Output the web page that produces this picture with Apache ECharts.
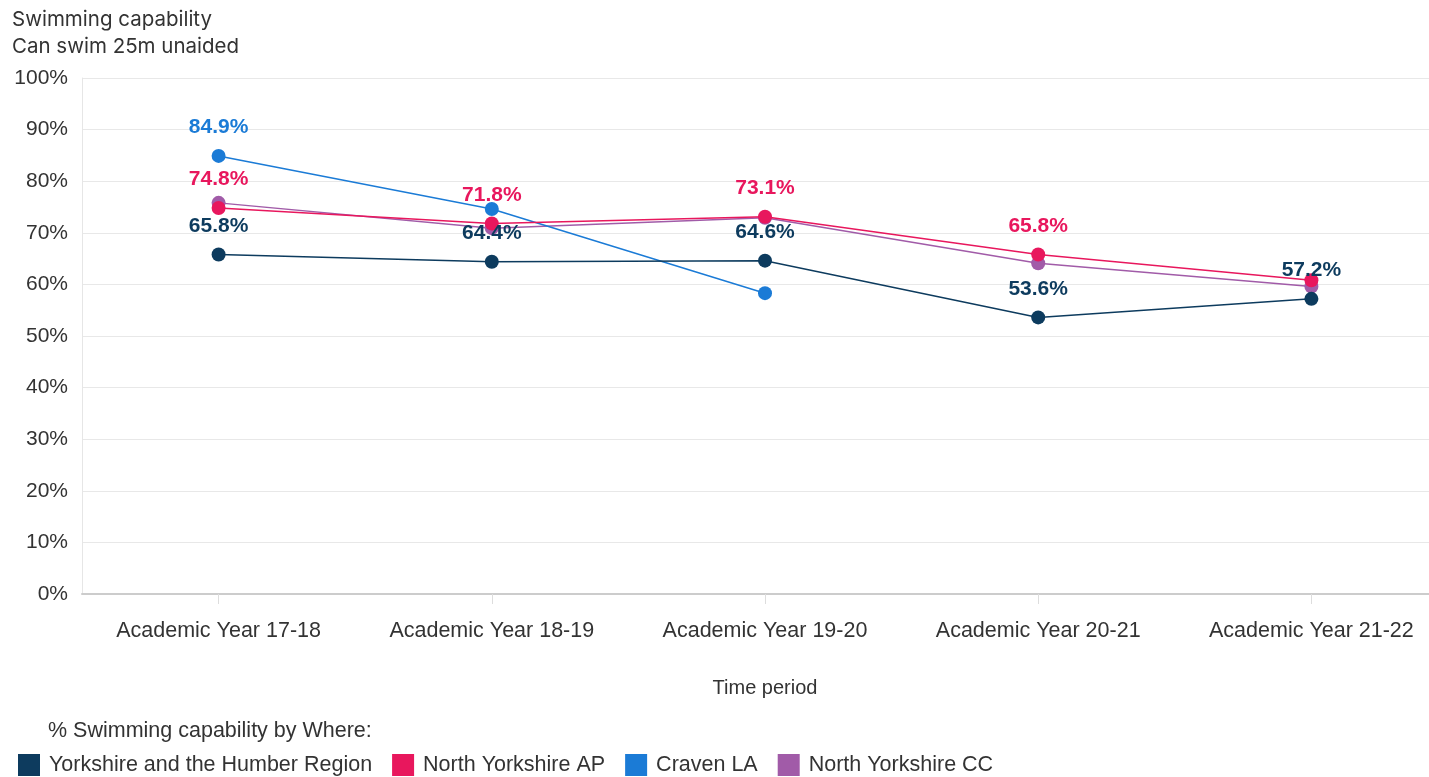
<!DOCTYPE html>
<html><head><meta charset="utf-8">
<script src="https://cdn.jsdelivr.net/npm/echarts@6/dist/echarts.min.js"></script>
<style>html,body{margin:0;padding:0;background:#fff}#c{width:1429px;height:777px}</style>
</head><body><div id="c"></div>
<script>
const categories = ['Academic Year 17-18','Academic Year 18-19','Academic Year 19-20','Academic Year 20-21','Academic Year 21-22'];
const yorkshireHumber = [65.8, 64.4, 64.6, 53.6, 57.2];
const northYorkshireAP = [74.8, 71.8, 73.1, 65.8, 60.8];
const cravenLA = [84.9, 74.6, 58.3, null, null];
const northYorkshireCC = [75.8, 70.9, 72.9, 64.1, 59.6];
const yTicks = [0,10,20,30,40,50,60,70,80,90,100];
const seriesNames = ['Yorkshire and the Humber Region','North Yorkshire AP','Craven LA','North Yorkshire CC'];
const colors = ['#0d3b5e','#e8175d','#1b7bd6','#a15ba8'];
const labelShow = [[1,1,1,1,1],[1,1,1,1,0],[1,0,0,0,0],[0,0,0,0,0]];
const FONT = 'Liberation Sans, Arial, sans-serif';

const chart = echarts.init(document.getElementById('c'));
const allData = [yorkshireHumber, northYorkshireAP, cravenLA, northYorkshireCC];
const order = [3,2,1,0];
const series = order.map(i => ({
  name: seriesNames[i], type: 'line', z: 10 - i,
  data: allData[i].map((v, j) => ({value: v, label: {show: !!labelShow[i][j] && v != null}})),
  symbol: 'circle', symbolSize: 14,
  lineStyle: {width: 1.5, color: colors[i]},
  itemStyle: {color: colors[i]},
  connectNulls: false,
  label: {position: 'top', distance: 11, color: colors[i], fontWeight: 'bold', fontSize: 21,
    fontFamily: FONT, formatter: p => p.value.toFixed(1) + '%'}
}));
chart.setOption({
  animation: false,
  color: colors,
  grid: {left: 82, width: 1366, top: 78, bottom: 183, containLabel: false, outerBoundsMode: 'none'},
  title: {text: 'Swimming capability\nCan swim 25m unaided', left: 7, top: 1,
    textStyle: {fontSize: 20.5, fontWeight: 'normal', color: '#333', lineHeight: 27, fontFamily: 'Inter, Open Sans, sans-serif'}},
  xAxis: {type: 'category', data: categories, boundaryGap: true,
    name: 'Time period', nameLocation: 'middle', nameGap: 84,
    nameTextStyle: {fontSize: 20, color: '#333', fontFamily: FONT},
    axisLine: {lineStyle: {color: '#ccc', width: 2}},
    axisTick: {show: true, alignWithLabel: true, length: 10, lineStyle: {color: '#ddd'}},
    axisLabel: {fontSize: 21.5, color: '#333', margin: 26, fontFamily: FONT},
    splitLine: {show: false}},
  yAxis: {type: 'value', min: 0, max: 100, interval: 10,
    axisLabel: {formatter: v => yTicks.includes(v) ? v + '%' : '', fontSize: 21, color: '#333', margin: 14,
      fontFamily: FONT},
    axisLine: {show: true, lineStyle: {color: '#e6e6e6'}},
    splitLine: {lineStyle: {color: '#e8e8e8', width: 1}}},
  legend: {data: seriesNames, left: 13, top: 749, icon: 'rect', itemWidth: 22, itemHeight: 22, itemGap: 20,
    textStyle: {fontSize: 21.5, color: '#333', fontFamily: FONT, padding: [0,0,0,4]}},
  graphic: [{type: 'text', left: 48, top: 720, style: {text: '% Swimming capability by Where:',
    fill: '#333', font: '21.5px Liberation Sans, Arial, sans-serif'}}],
  series: series
});
</script></body></html>
